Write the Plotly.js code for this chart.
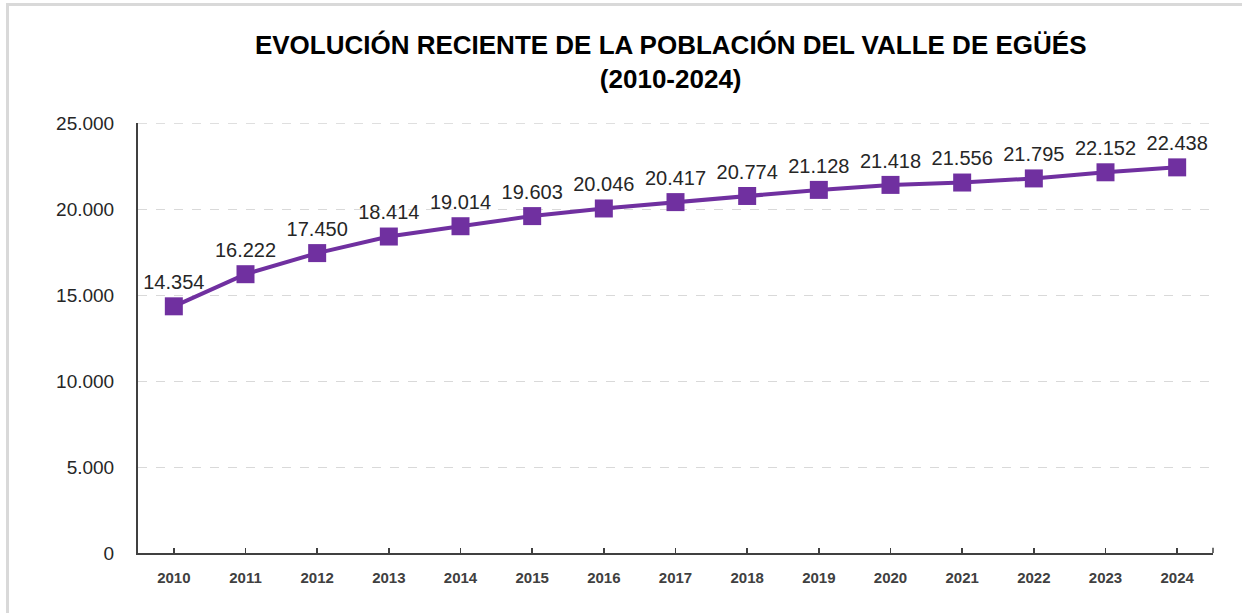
<!DOCTYPE html>
<html>
<head>
<meta charset="utf-8">
<script src="https://cdn.plot.ly/plotly-3.0.1.min.js"></script>
<style>
  html, body { margin: 0; padding: 0; background: #fff; }
  #chart { width: 1242px; height: 613px; position: relative; }
  #frame { position: absolute; left: 6px; top: 3px; width: 1300px; height: 700px;
           border-left: 3px solid #d9d9d9; border-top: 3px solid #d9d9d9; pointer-events: none; }
</style>
</head>
<body>
<div id="chart"></div>
<div id="frame"></div>
<script>
const years = ['2010','2011','2012','2013','2014','2015','2016','2017','2018','2019','2020','2021','2022','2023','2024'];
const population = [14354, 16222, 17450, 18414, 19014, 19603, 20046, 20417, 20774, 21128, 21418, 21556, 21795, 22152, 22438];
const yTicks = [0, 5000, 10000, 15000, 20000, 25000];
const yMax = 25000;
const titleText = 'EVOLUCIÓN RECIENTE DE LA POBLACIÓN DEL VALLE DE EGÜÉS<br>(2010-2024)';

const trace = {
  x: years,
  y: population,
  type: 'scatter',
  mode: 'lines+markers+text',
  line: { color: '#7030A0', width: 4 },
  marker: { symbol: 'square', size: 18, color: '#7030A0' },
  texttemplate: '%{y:,d}',
  textposition: 'top center',
  textfont: { family: 'Liberation Sans, Arial, sans-serif', size: 20, color: '#262626' },
  cliponaxis: false,
  hoverinfo: 'x+y'
};

const layout = {
  width: 1242,
  height: 613,
  separators: ',.',
  paper_bgcolor: '#ffffff',
  plot_bgcolor: '#ffffff',
  margin: { l: 138, r: 29, t: 123, b: 60 },
  showlegend: false,
  title: {
    text: titleText,
    font: { family: 'Liberation Sans, Arial, sans-serif', size: 26, color: '#000000', weight: 'bold' },
    x: 0.54, xanchor: 'center',
    y: 1 - 54 / 613, yanchor: 'top', yref: 'container'
  },
  shapes: [
    { type: 'line', xref: 'paper', yref: 'y', x0: 0, x1: 1, y0: yMax, y1: yMax,
      line: { color: '#d9d9d9', width: 1, dash: 'dash' }, layer: 'below' },
    { type: 'line', xref: 'paper', yref: 'paper', x0: 1, x1: 1, y0: 0, y1: 0.012,
      line: { color: '#404040', width: 1.5 } }
  ],
  xaxis: {
    type: 'category',
    range: [-0.5, 14.5],
    showline: true,
    linecolor: '#404040',
    linewidth: 2,
    ticks: 'inside',
    ticklen: 5,
    tickcolor: '#404040',
    tickwidth: 1.5,
    showgrid: false,
    tickfont: { family: 'Liberation Sans, Arial, sans-serif', size: 15, color: '#404040', weight: 'bold' },
    ticklabelstandoff: 10
  },
  yaxis: {
    range: [0, 25020],
    tickvals: yTicks,
    tickformat: ',d',
    showline: true,
    linecolor: '#404040',
    linewidth: 2,
    ticks: '',
    showgrid: true,
    gridcolor: '#d9d9d9',
    griddash: 'dash',
    gridwidth: 1,
    zeroline: false,
    tickfont: { family: 'Liberation Sans, Arial, sans-serif', size: 19, color: '#262626' },
    ticklabelstandoff: 18
  }
};

Plotly.newPlot('chart', [trace], layout, { displayModeBar: false, staticPlot: true });
</script>
</body>
</html>
